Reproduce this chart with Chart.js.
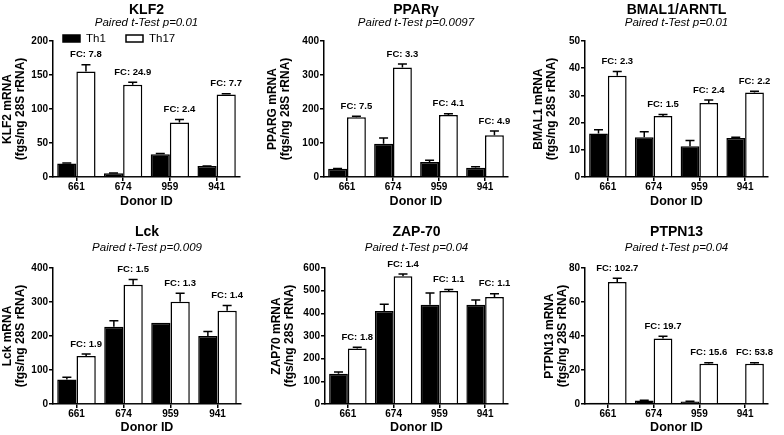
<!DOCTYPE html>
<html lang="en">
<head>
<meta charset="UTF-8">
<title>Th1 vs Th17 mRNA</title>
<script src="https://cdn.jsdelivr.net/npm/chart.js"></script>
<style>
  body { margin: 0; background: #fff; }
  #wrap {
    display: grid;
    grid-template-columns: 261px 261px 262px;
    grid-template-rows: 217px 218px;
    width: 784px;
    height: 435px;
  }
  canvas { display: block; }
</style>
</head>
<body>
<div id="wrap">
  <canvas id="c1" width="261" height="217"></canvas>
  <canvas id="c2" width="261" height="217"></canvas>
  <canvas id="c3" width="262" height="217"></canvas>
  <canvas id="c4" width="261" height="218"></canvas>
  <canvas id="c5" width="261" height="218"></canvas>
  <canvas id="c6" width="262" height="218"></canvas>
</div>
<script>
// donors + series
const donors = ['661', '674', '959', '941'];
const seriesNames = ['Th1', 'Th17'];

// KLF2
const klf2Th1 = [20, 5.5, 33.5, 16];
const klf2Th1Err = [0.5, 0.5, 1, 0.3];
const klf2Th17 = [155, 135.5, 80, 121.5];
const klf2Th17Err = [10, 4, 4.5, 1];
const klf2Fc = ['7.8', '24.9', '2.4', '7.7'];

// PPARG
const ppargTh1 = [24, 98, 44, 27];
const ppargTh1Err = [1, 17, 5, 3];
const ppargTh17 = [176, 322, 182, 123];
const ppargTh17Err = [3, 10, 4, 12];
const ppargFc = ['7.5', '3.3', '4.1', '4.9'];

// BMAL1
const bmalTh1 = [16, 14.6, 11.3, 14.3];
const bmalTh1Err = [1.4, 2, 2.1, 0.3];
const bmalTh17 = [37.2, 22.4, 27.2, 31.1];
const bmalTh17Err = [1.6, 0.6, 1.1, 0.4];
const bmalFc = ['2.3', '1.5', '2.4', '2.2'];

// Lck
const lckTh1 = [72, 227, 239, 200];
const lckTh1Err = [7, 18, 0, 13];
const lckTh17 = [141, 351, 301, 274];
const lckTh17Err = [6, 15, 25, 16];
const lckFc = ['1.9', '1.5', '1.3', '1.4'];

// ZAP-70
const zapTh1 = [134, 410, 438, 438];
const zapTh1Err = [7, 30, 52, 21];
const zapTh17 = [245, 564, 498, 472];
const zapTh17Err = [5, 10, 7, 14];
const zapFc = ['1.8', '1.4', '1.1', '1.1'];

// PTPN13
const ptpnTh1 = [0.7, 2, 1.5, 0.44];
const ptpnTh1Err = [0, 0.2, 0.1, 0];
const ptpnTh17 = [71.8, 38.5, 23.7, 23.7];
const ptpnTh17Err = [2.2, 1.3, 0.6, 0.6];
const ptpnFc = ['102.7', '19.7', '15.6', '53.8'];

Chart.defaults.font.family = '"Liberation Sans", Arial, sans-serif';
Chart.defaults.color = '#000';

// error bars + "FC: x" labels above Th17
const errorBars = {
  id: 'errorBars',
  afterDatasetsDraw(chart) {
    const ctx = chart.ctx;
    const y = chart.scales.y;
    ctx.save();
    ctx.strokeStyle = '#000';
    ctx.fillStyle = '#000';
    ctx.lineWidth = 1.5;
    chart.data.datasets.forEach((ds, i) => {
      const meta = chart.getDatasetMeta(i);
      meta.data.forEach((bar, j) => {
        const top = y.getPixelForValue(ds.data[j] + ds.err[j]);
        if (ds.err[j] > 0) {
          ctx.beginPath();
          ctx.moveTo(bar.x, bar.y);
          ctx.lineTo(bar.x, top);
          ctx.moveTo(bar.x - 4.5, top);
          ctx.lineTo(bar.x + 4.5, top);
          ctx.stroke();
        }
        if (ds.fc) {
          ctx.font = 'bold 9.5px "Liberation Sans", Arial, sans-serif';
          ctx.textAlign = 'center';
          ctx.textBaseline = 'middle';
          ctx.fillText('FC: ' + ds.fc[j], bar.x, top - 10);
        }
      });
    });
    ctx.restore();
  }
};

// small legend in the corner of the first panel
const cornerLegend = {
  id: 'cornerLegend',
  afterDraw(chart, args, opts) {
    if (!opts.show) return;
    const ctx = chart.ctx;
    const spots = [63, 126];
    ctx.save();
    ctx.font = '11.5px "Liberation Sans", Arial, sans-serif';
    ctx.textBaseline = 'middle';
    ctx.textAlign = 'left';
    ctx.lineWidth = 1.5;
    chart.data.datasets.forEach((ds, i) => {
      const x = spots[i];
      ctx.fillStyle = ds.backgroundColor;
      ctx.strokeStyle = '#000';
      ctx.fillRect(x, 35, 17, 7);
      ctx.strokeRect(x, 35, 17, 7);
      ctx.fillStyle = '#000';
      ctx.fillText(ds.label, x + 23, 38.5);
    });
    ctx.restore();
  }
};

const rows = [
  { h: 217, titleTop: 3, subTop: 0, subBottom: 12.5, bottom: 177, donorBottom: 8 },
  { h: 218, titleTop: 8.3, subTop: 3, subBottom: 14.2, bottom: 187, donorBottom: 0 }
];

const panels = [
  { id: 'c1', w: 261, row: 0, title: 'KLF2', p: '0.01', yName: 'KLF2 mRNA', th1: klf2Th1, th1Err: klf2Th1Err, th17: klf2Th17, th17Err: klf2Th17Err, fc: klf2Fc, max: 200, step: 50, padLeft: 1, axisX: 53, right: 240, legend: true },
  { id: 'c2', w: 261, row: 0, title: 'PPARγ', p: '0.0097', yName: 'PPARG mRNA', th1: ppargTh1, th1Err: ppargTh1Err, th17: ppargTh17, th17Err: ppargTh17Err, fc: ppargFc, max: 400, step: 100, padLeft: 5.5, axisX: 63, right: 247 },
  { id: 'c3', w: 262, row: 0, title: 'BMAL1/ARNTL', p: '0.01', yName: 'BMAL1 mRNA', th1: bmalTh1, th1Err: bmalTh1Err, th17: bmalTh17, th17Err: bmalTh17Err, fc: bmalFc, max: 50, step: 10, padLeft: 10, axisX: 63, right: 246 },
  { id: 'c4', w: 261, row: 1, title: 'Lck', p: '0.009', yName: 'Lck mRNA', th1: lckTh1, th1Err: lckTh1Err, th17: lckTh17, th17Err: lckTh17Err, fc: lckFc, max: 400, step: 100, padLeft: 1, axisX: 53, right: 241 },
  { id: 'c5', w: 261, row: 1, title: 'ZAP-70', p: '0.04', yName: 'ZAP70 mRNA', th1: zapTh1, th1Err: zapTh1Err, th17: zapTh17, th17Err: zapTh17Err, fc: zapFc, max: 600, step: 100, padLeft: 9, axisX: 64, right: 247 },
  { id: 'c6', w: 262, row: 1, title: 'PTPN13', p: '0.04', yName: 'PTPN13 mRNA', th1: ptpnTh1, th1Err: ptpnTh1Err, th17: ptpnTh17, th17Err: ptpnTh17Err, fc: ptpnFc, max: 80, step: 20, padLeft: 21, axisX: 63, right: 246 }
];

panels.forEach(function (p) {
  const r = rows[p.row];
  const axisLine = { color: '#000', width: 1.5 };
  const tickGrid = { drawOnChartArea: false, color: '#000', lineWidth: 1.5, tickLength: 4 };

  new Chart(document.getElementById(p.id), {
    type: 'bar',
    data: {
      labels: donors,
      datasets: [{
        label: seriesNames[0],
        data: p.th1,
        err: p.th1Err,
        backgroundColor: '#000',
        borderColor: '#000',
        borderWidth: 1.5,
        categoryPercentage: 0.82,
        barPercentage: 1
      }, {
        label: seriesNames[1],
        data: p.th17,
        err: p.th17Err,
        fc: p.fc,
        backgroundColor: '#fff',
        borderColor: '#000',
        borderWidth: 1.5,
        categoryPercentage: 0.82,
        barPercentage: 1
      }]
    },
    options: {
      responsive: false,
      animation: false,
      devicePixelRatio: 1,
      layout: { padding: { left: p.padLeft, right: p.w - p.right, top: 0, bottom: 0 } },
      plugins: {
        legend: { display: false },
        tooltip: { enabled: false },
        title: {
          display: true, text: p.title, fullSize: false,
          font: { size: 14, weight: 'bold', lineHeight: 1 },
          padding: { top: r.titleTop, bottom: 0 }
        },
        subtitle: {
          display: true, text: 'Paired t-Test p=' + p.p, fullSize: false,
          font: { size: 11.5, style: 'italic', lineHeight: 1 },
          padding: { top: r.subTop, bottom: r.subBottom }
        },
        cornerLegend: { show: !!p.legend }
      },
      scales: {
        x: {
          offset: true,
          grid: Object.assign({ offset: false }, tickGrid),
          border: axisLine,
          ticks: { font: { size: 10, weight: 'bold' }, padding: 0 },
          title: {
            display: true, text: 'Donor ID',
            font: { size: 12.5, weight: 'bold' },
            padding: { top: 0, bottom: r.donorBottom }
          },
          afterFit(s) { s.height = r.h - r.bottom; }
        },
        y: {
          min: 0,
          max: p.max,
          grid: tickGrid,
          border: axisLine,
          ticks: { stepSize: p.step, font: { size: 10, weight: 'bold' }, padding: 1 },
          title: {
            display: true, text: [p.yName, '(fgs/ng 28S rRNA)'],
            font: { size: 12, weight: 'bold', lineHeight: 13 / 12 },
            padding: { top: 0, bottom: 0 }
          },
          afterFit(s) { s.width = p.axisX - p.padLeft; }
        }
      }
    },
    plugins: [errorBars, cornerLegend]
  });
});
</script>
</body>
</html>
